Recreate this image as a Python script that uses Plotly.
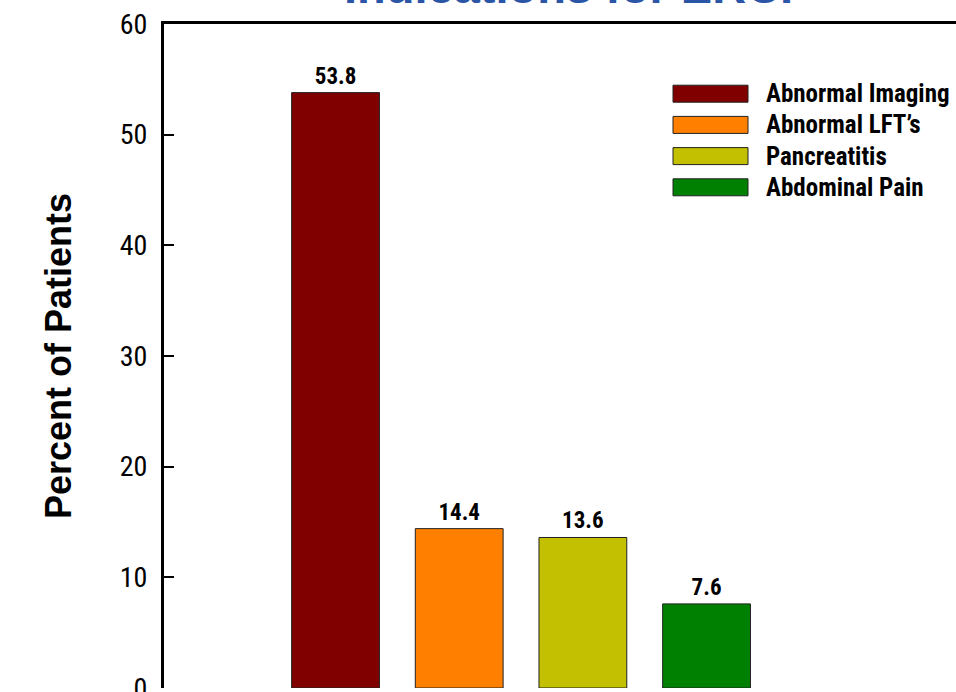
import plotly.graph_objects as go

categories = ["Abnormal Imaging", "Abnormal LFT\u2019s", "Pancreatitis", "Abdominal Pain"]
values = [53.8, 14.4, 13.6, 7.6]
value_labels = ["53.8", "14.4", "13.6", "7.6"]
colors = ["#800000", "#FF8000", "#C2C000", "#008000"]
y_ticks = [0, 10, 20, 30, 40, 50, 60]
title_text = "Indications for ERCP"
y_title = "Percent of Patients"

W, H = 956, 692
ML, MR, MT, MB = 164, 0, 24, 4
PW, PH = W - ML - MR, H - MT - MB

NARROW = "Liberation Sans Narrow, Roboto Condensed, Arial Narrow, Roboto, sans-serif"
ARIAL = "Liberation Sans, Arial, sans-serif"

fig = go.Figure()
fig.add_trace(go.Bar(
    x=categories, y=values,
    marker=dict(color=colors, line=dict(color="#222222", width=1)),
    width=0.71,
    text=[f"<b>{t}</b>" for t in value_labels], textposition="outside",
    textfont=dict(family=NARROW, size=23, color="black"),
    cliponaxis=False,
    showlegend=False,
    hoverinfo="x+y",
))

def px_x(px):  # page pixel -> paper x
    return (px - ML) / PW

def px_y(py):  # page pixel -> paper y
    return (H - MB - py) / PH

shapes = []
annotations = []
for i, (cat, col) in enumerate(zip(categories, colors)):
    cy = 93.7 + 31.2 * i
    shapes.append(dict(type="rect", xref="paper", yref="paper",
                       x0=px_x(673), x1=px_x(748), y0=px_y(cy + 8.5), y1=px_y(cy - 8.5),
                       fillcolor=col, line=dict(color="#222222", width=1)))
    annotations.append(dict(text=f"<b>{cat}</b>", xref="paper", yref="paper",
                            x=px_x(764), y=px_y(cy), xanchor="left", yanchor="middle",
                            showarrow=False, font=dict(family=NARROW, size=25, color="black")))

annotations.append(dict(text=f"<b>{title_text}</b>", xref="paper", yref="paper",
                        x=px_x(577.5), y=1, xanchor="center", yanchor="bottom", yshift=9,
                        showarrow=False, font=dict(family=ARIAL, size=47, color="#2B55A6")))

fig.update_layout(
    width=W, height=H,
    margin=dict(l=ML, r=MR, t=MT, b=MB, autoexpand=False),
    paper_bgcolor="white", plot_bgcolor="white",
    shapes=shapes, annotations=annotations,
    xaxis=dict(side="top", showline=True, linecolor="black", linewidth=3,
               showticklabels=False, ticks="", showgrid=False, zeroline=False,
               automargin=False, range=[-1.387, 5.017]),
    yaxis=dict(range=[0, 60], tickvals=y_ticks, ticks="inside", ticklen=10,
               tickwidth=2, tickcolor="black", showline=True, linecolor="black",
               linewidth=3, showgrid=False, zeroline=False, automargin=False,
               tickfont=dict(family=NARROW, size=28, color="black"),
               ticklabelstandoff=8, ticklabeloverflow="allow",
               title=dict(text=f"<b>{y_title}</b>", standoff=38,
                          font=dict(family=ARIAL, size=36, color="black"))),
)

fig.write_html(
    "out.html",
    config={"displayModeBar": False},
    post_script=(
        "document.body.style.margin='0';"
        "document.documentElement.style.overflow='hidden';"
        "document.body.style.overflow='hidden';"
        "var gd=document.getElementById('{plot_id}');"
        "gd.style.position='fixed';gd.style.left='0px';gd.style.top='0px';"
    ),
)
